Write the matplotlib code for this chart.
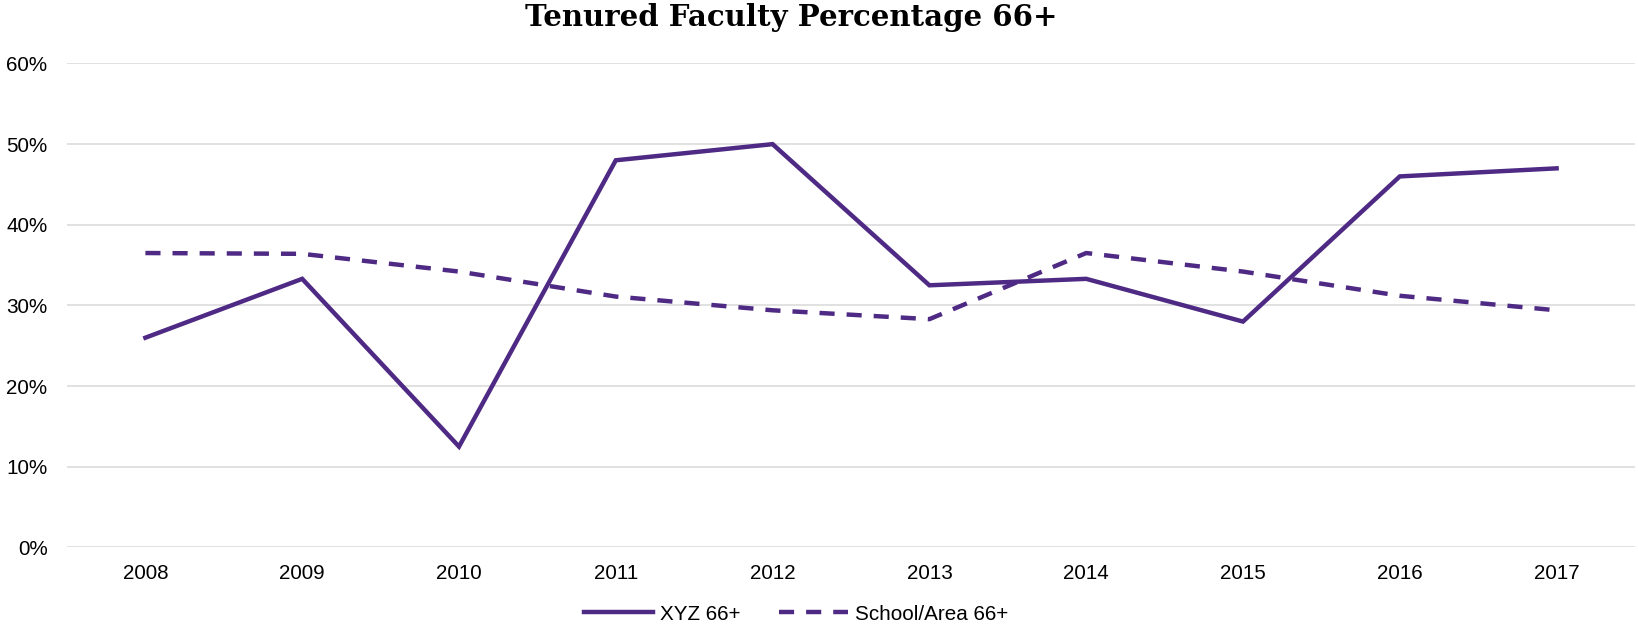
import matplotlib.pyplot as plt
from matplotlib.ticker import PercentFormatter

years = ['2008', '2009', '2010', '2011', '2012', '2013', '2014', '2015', '2016', '2017']
xyz_66 = [0.260, 0.333, 0.125, 0.480, 0.500, 0.325, 0.333, 0.280, 0.460, 0.470]
school_66 = [0.365, 0.364, 0.342, 0.311, 0.294, 0.283, 0.365, 0.342, 0.312, 0.294]

purple = '#4e2a84'
plt.rcParams['font.family'] = ['Liberation Sans', 'DejaVu Sans']

fig = plt.figure(figsize=(16.38, 6.26), dpi=100)
ax = fig.add_axes([67 / 1638, 1 - 547.4 / 626, (1635 - 67) / 1638, (547.4 - 63.5) / 626])

x = range(len(years))
ax.plot(x, xyz_66, color=purple, lw=3.2, label='XYZ 66+', solid_joinstyle='miter')
ax.plot(x, school_66, color=purple, lw=3.2, linestyle=(0, (3.4, 2.7)), label='School/Area 66+')

ax.set_xlim(-0.5, len(years) - 0.5)
ax.set_ylim(0, 0.6)
ax.set_yticks([0, 0.1, 0.2, 0.3, 0.4, 0.5, 0.6])
ax.yaxis.set_major_formatter(PercentFormatter(1.0, decimals=0))
ax.set_xticks(list(x))
ax.set_xticklabels(years)
ax.tick_params(length=0, labelsize=14.9, colors='#000000', pad=12)
ax.tick_params(axis='y', pad=14)
ax.grid(axis='y', color='#d9d9d9', lw=1.1)
ax.set_axisbelow(True)
for s in ax.spines.values():
    s.set_visible(False)

fig.text(791 / 1638, 1 - 26 / 626, 'Tenured Faculty Percentage 66+', ha='center', va='baseline',
         fontsize=21, fontweight='bold', family=['DejaVu Serif'])

fig.legend(loc='center', bbox_to_anchor=(796 / 1638, 1 - 614 / 626), ncol=2, frameon=False,
           fontsize=14.9, handlelength=3.33, handletextpad=0.34, columnspacing=1.84)

fig.savefig('out.png', dpi=100)
